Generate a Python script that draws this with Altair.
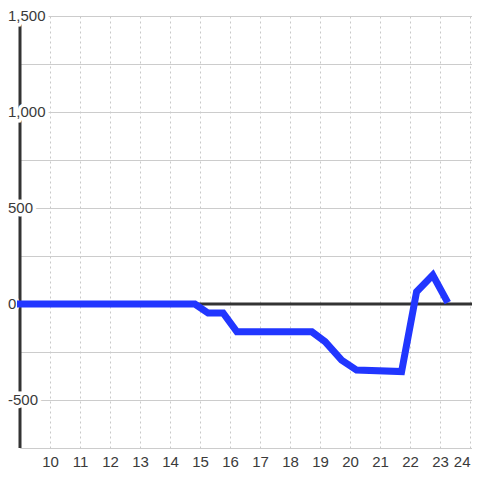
import altair as alt
import pandas as pd

# series
hours = [8.9, 14.83, 15.27, 15.77, 16.23, 18.73, 19.17, 19.72, 20.22, 21.72, 22.22, 22.76, 23.26]
values = [0, 0, -47, -47, -145, -145, -196, -292, -344, -352, 64, 151, 7]

# axis ticks
x_ticks = list(range(10, 25))
y_grid = [-750, -500, -250, 0, 250, 500, 750, 1000, 1250, 1500]
y_label_vals = [-500, 0, 500, 1000, 1500]
y_label_text = ["-500", "0", "500", "1,000", "1,500"]

X_MIN, X_MAX = 9, 24.067
Y_MIN, Y_MAX = -750, 1500
FONT = "Liberation Sans"
TXT = "#3a3a3a"

line_df = pd.DataFrame({"h": hours, "v": values})
lab_df = pd.DataFrame({"v": y_label_vals, "t": y_label_text, "h": [X_MIN] * len(y_label_vals)})
axis_df = pd.DataFrame({"h": [X_MIN], "v": [Y_MIN], "v2": [Y_MAX]})
zero_df = pd.DataFrame({"h": [X_MIN], "h2": [X_MAX], "v": [0]})

xs = alt.Scale(domain=[X_MIN, X_MAX], nice=False, zero=False)
ys = alt.Scale(domain=[Y_MIN, Y_MAX], nice=False)

xaxis = alt.Axis(values=x_ticks, grid=True, gridDash=[2, 3], gridColor="#c8c8c8",
                 domain=False, ticks=False, labelFontSize=15, labelColor=TXT,
                 labelFont=FONT, labelPadding=6, labelOverlap=False, labelFlush=6,
                 labelBound=False, title=None)
yaxis = alt.Axis(values=y_grid, grid=True, gridColor="#cccccc", domain=False,
                 ticks=False, labels=False, title=None)

X = alt.X("h:Q", scale=xs, axis=xaxis, title=None)
Y = alt.Y("v:Q", scale=ys, axis=yaxis, title=None)

base_line = alt.Chart(line_df).mark_line(color="#2136ff", strokeWidth=7, clip=False).encode(
    x=X, y=Y,
)
axis_rule = alt.Chart(axis_df).mark_rule(color="#333333", strokeWidth=3).encode(
    x=X, y=Y, y2="v2:Q"
)
zero_rule = alt.Chart(zero_df).mark_rule(color="#333333", strokeWidth=3).encode(
    x=X, x2="h2:Q", y=Y
)
halo = alt.Chart(lab_df).mark_text(align="left", baseline="middle", dx=-12, fontSize=15,
                                   font=FONT, stroke="white", strokeWidth=7,
                                   fill="white").encode(
    x=X, y=Y, text="t:N"
)
labels = alt.Chart(lab_df).mark_text(align="left", baseline="middle", dx=-12, fontSize=15,
                                     font=FONT, color=TXT).encode(
    x=X, y=Y, text="t:N"
)

chart = alt.layer(axis_rule, zero_rule, halo, labels, base_line).properties(
    width=452, height=432,
    padding={"left": 12, "top": 8, "right": 0, "bottom": 20},
    autosize=alt.AutoSizeParams(type="none"),
).configure_view(stroke=None).configure(background="white")

chart.save("out.html", embed_options={"renderer": "svg", "actions": False})
